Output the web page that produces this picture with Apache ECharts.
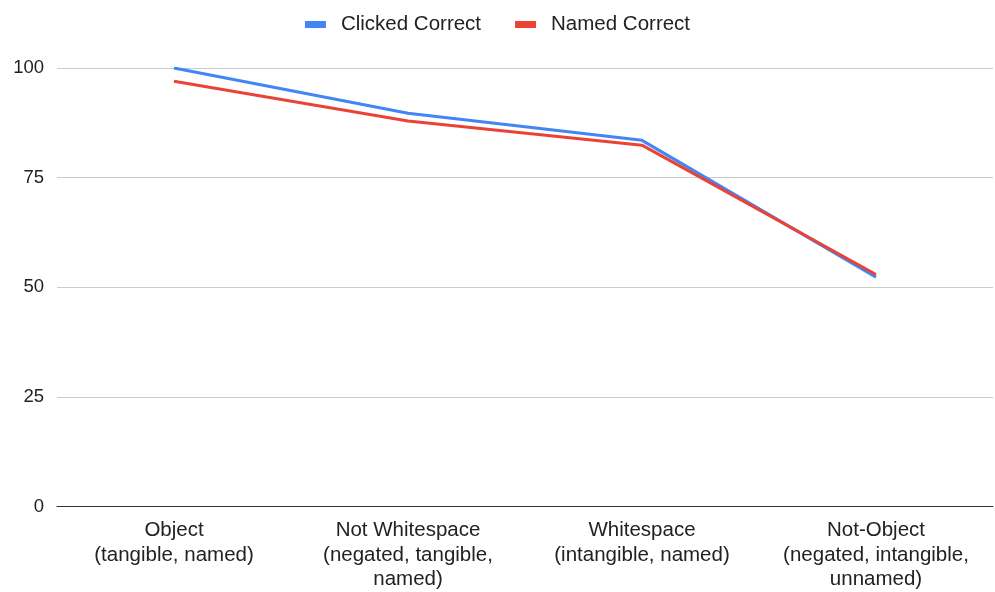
<!DOCTYPE html>
<html>
<head>
<meta charset="utf-8">
<script src="https://cdn.jsdelivr.net/npm/echarts@6/dist/echarts.min.js"></script>
<style>
  html, body { margin: 0; padding: 0; background: #fff; }
  #chart { width: 995px; height: 592px; }
</style>
</head>
<body>
<div id="chart"></div>
<script>
// Categories shown along the x axis
const categories = [
  'Object\n(tangible, named)',
  'Not Whitespace\n(negated, tangible,\nnamed)',
  'Whitespace\n(intangible, named)',
  'Not-Object\n(negated, intangible,\nunnamed)'
];
// Percent correct per condition
const clickedCorrect = [100, 89.7, 83.5, 52.3];
const namedCorrect = [97, 87.9, 82.4, 52.9];
// Value axis ticks
const yTicks = [0, 25, 50, 75, 100];

const font = '"Liberation Sans", Arial, sans-serif';
const chart = echarts.init(document.getElementById('chart'));
chart.setOption({
  animation: false,
  textStyle: { fontFamily: font },
  legend: {
    top: 9,
    left: 'center',
    icon: 'rect',
    itemWidth: 21,
    itemHeight: 7,
    itemGap: 34,
    textStyle: { fontFamily: font, fontSize: 20.5, color: '#222', padding: [0, 0, 0, 10] },
    data: ['Clicked Correct', 'Named Correct']
  },
  grid: { left: 57, right: 2, top: 68, bottom: 82, containLabel: false },
  xAxis: {
    type: 'category',
    data: categories,
    boundaryGap: true,
    axisLine: { lineStyle: { color: '#333', width: 1 } },
    axisTick: { show: false },
    axisLabel: {
      interval: 0,
      margin: 12,
      fontFamily: font,
      fontSize: 20.5,
      lineHeight: 24.5,
      color: '#222'
    }
  },
  yAxis: {
    type: 'value',
    min: yTicks[0],
    max: yTicks[yTicks.length - 1],
    interval: yTicks[1] - yTicks[0],
    axisLine: { show: false },
    axisTick: { show: false },
    splitLine: { lineStyle: { color: '#cccccc', width: 1 } },
    axisLabel: { margin: 13, fontFamily: font, fontSize: 18.5, color: '#222' }
  },
  series: [
    {
      name: 'Clicked Correct',
      type: 'line',
      data: clickedCorrect,
      symbol: 'none',
      itemStyle: { color: '#4285F4' },
      lineStyle: { color: '#4285F4', width: 3 }
    },
    {
      name: 'Named Correct',
      type: 'line',
      data: namedCorrect,
      symbol: 'none',
      itemStyle: { color: '#EA4335' },
      lineStyle: { color: '#EA4335', width: 3 }
    }
  ]
});
</script>
</body>
</html>
